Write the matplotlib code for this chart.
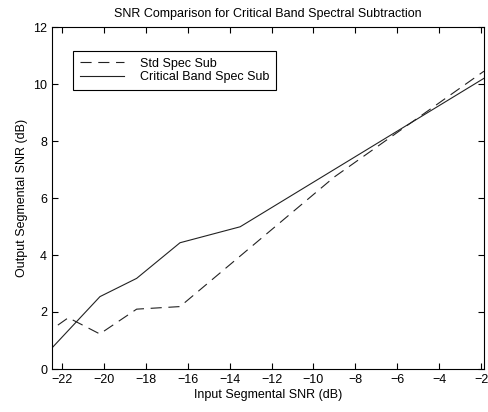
import matplotlib
matplotlib.use("Agg")
from matplotlib import pyplot as plt

# values
std_x = [-22.2, -21.7, -20.2, -18.44, -16.37, -9.0, -1.86]
std_y = [1.54, 1.8, 1.23, 2.1, 2.19, 6.74, 10.45]
crit_x = [-22.48, -20.19, -18.44, -16.37, -13.5, -1.86]
crit_y = [0.74, 2.54, 3.18, 4.43, 4.99, 10.2]
x_ticks = list(range(-22, -1, 2))
y_ticks = list(range(0, 13, 2))

plt.rcParams['font.family'] = ['Liberation Sans', 'DejaVu Sans']
plt.rcParams['font.size'] = 9

fig = plt.figure(figsize=(4.89, 4.12), dpi=100)
ax = fig.add_axes([52/489, 43/412, 432/489, 342/412])
ax.plot(std_x, std_y, color="#222222", linewidth=0.8, linestyle=(0, (10, 6)), label='Std Spec Sub')
ax.plot(crit_x, crit_y, color="#222222", linewidth=0.8, linestyle="-", label='Critical Band Spec Sub')
ax.set_xlim(-22.48, -1.86)
ax.set_ylim(0, 12)
ax.set_xticks(x_ticks)
ax.set_yticks(y_ticks)
ax.tick_params(direction='in', top=True, right=True, length=4, width=0.8)
for s in ax.spines.values():
    s.set_linewidth(0.8)
ax.set_title('SNR Comparison for Critical Band Spectral Subtraction', fontsize=9, pad=7)
ax.set_xlabel('Input Segmental SNR (dB)', labelpad=2)
ax.set_ylabel('Output Segmental SNR (dB)', labelpad=4)
leg = ax.legend(loc='upper left', bbox_to_anchor=(0.049, 0.93), fancybox=False,
                edgecolor='black', framealpha=1, borderaxespad=0, handlelength=3.5,
                labelspacing=0.1, borderpad=0.55, handletextpad=1.3)
leg.get_frame().set_linewidth(0.8)
fig.savefig('out.png', dpi=100)
